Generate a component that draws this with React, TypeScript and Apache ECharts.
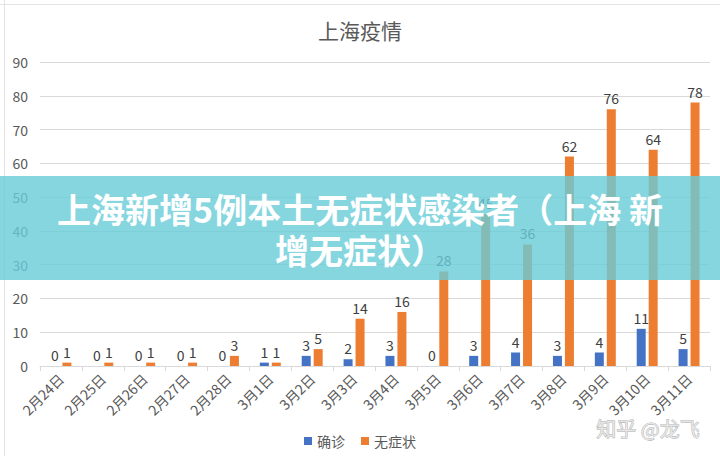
import React, { useEffect, useRef } from "react";
import * as echarts from "echarts";

const categories = [
  "2月24日", "2月25日", "2月26日", "2月27日", "2月28日", "3月1日", "3月2日", "3月3日",
  "3月4日", "3月5日", "3月6日", "3月7日", "3月8日", "3月9日", "3月10日", "3月11日",
];
const confirmed = [0, 0, 0, 0, 0, 1, 3, 2, 3, 0, 3, 4, 3, 4, 11, 5];
const asymptomatic = [1, 1, 1, 1, 3, 1, 5, 14, 16, 28, 45, 36, 62, 76, 64, 78];
const seriesNames = ["确诊", "无症状"];
const titleText = "上海疫情";
const bannerText = "上海新增5例本土无症状感染者（上海 新\n增无症状）";
const watermarkText = "知乎 @龙飞";

const FONT = "'Noto Sans CJK SC', 'Noto Sans', sans-serif";

export default function App() {
  const ref = useRef<HTMLDivElement>(null);
  useEffect(() => {
    if (!ref.current) return;
    const chart = echarts.init(ref.current, null, { renderer: "svg" });
    chart.setOption({
      animation: false,
      backgroundColor: "#ffffff",
      textStyle: { fontFamily: FONT },
      title: {
        text: titleText,
        left: "center",
        top: 14,
        textStyle: { fontSize: 21, fontWeight: "normal", color: "#595959", fontFamily: FONT },
      },
      legend: {
        bottom: 3,
        left: "center",
        icon: "rect",
        itemWidth: 8,
        itemHeight: 8,
        itemGap: 16,
        textStyle: { fontSize: 14, color: "#595959", fontFamily: FONT },
        data: seriesNames,
      },
      grid: { left: 40, right: 10, top: 62, bottom: 90, containLabel: false },
      xAxis: {
        type: "category",
        data: categories,
        boundaryGap: true,
        axisLine: { lineStyle: { color: "#d9d9d9" } },
        axisTick: { show: true, length: 5, lineStyle: { color: "#d9d9d9" } },
        axisLabel: { rotate: 45, interval: 0, color: "#595959", fontSize: 14, margin: 10, fontFamily: FONT },
      },
      yAxis: {
        type: "value",
        min: 0,
        max: 90,
        interval: 10,
        axisLine: { show: false },
        axisTick: { show: false },
        splitLine: { lineStyle: { color: "#d9d9d9" } },
        axisLabel: { color: "#595959", fontSize: 14, margin: 12, fontFamily: FONT },
      },
      series: [
        {
          name: seriesNames[0],
          type: "bar",
          data: confirmed,
          barWidth: 9,
          barGap: "33%",
          itemStyle: { color: "#4472C4" },
          label: { show: true, position: "top", color: "#404040", fontSize: 14, distance: 4, fontFamily: FONT },
        },
        {
          name: seriesNames[1],
          type: "bar",
          data: asymptomatic,
          barWidth: 9,
          barGap: "33%",
          itemStyle: { color: "#ED7D31" },
          label: { show: true, position: "top", color: "#404040", fontSize: 14, distance: 4, fontFamily: FONT },
        },
      ],
      graphic: [
        {
          type: "line",
          z: 1,
          shape: { x1: 0, y1: 4.5, x2: 720, y2: 4.5 },
          style: { stroke: "#e3e3e3", lineWidth: 1 },
        },
        {
          type: "line",
          z: 1,
          shape: { x1: 4.5, y1: 0, x2: 4.5, y2: 456 },
          style: { stroke: "#e3e3e3", lineWidth: 1 },
        },
        {
          type: "text",
          z: 50,
          x: 648,
          y: 428,
          style: {
            text: watermarkText,
            fontSize: 20,
            fontFamily: FONT,
            fill: "#e6e6e6",
            stroke: "#a8a8a8",
            lineWidth: 0.8,
            textAlign: "center",
            textVerticalAlign: "middle",
          },
        },
        {
          type: "rect",
          z: 100,
          shape: { x: 0, y: 176, width: 720, height: 104 },
          style: { fill: "rgba(104,204,216,0.8)" },
        },
        {
          type: "text",
          z: 101,
          x: 360,
          y: 229,
          style: {
            text: bannerText,
            fontSize: 34,
            fontWeight: "bold",
            fontFamily: FONT,
            lineHeight: 41,
            fill: "#ffffff",
            textAlign: "center",
            textVerticalAlign: "middle",
            shadowColor: "rgba(0,0,0,0.15)",
            shadowBlur: 2,
          },
        },
      ],
    });
    return () => chart.dispose();
  }, []);
  return (
    <div
      ref={ref}
      style={{ position: "fixed", left: 0, top: 0, width: 720, height: 456 }}
    />
  );
}
